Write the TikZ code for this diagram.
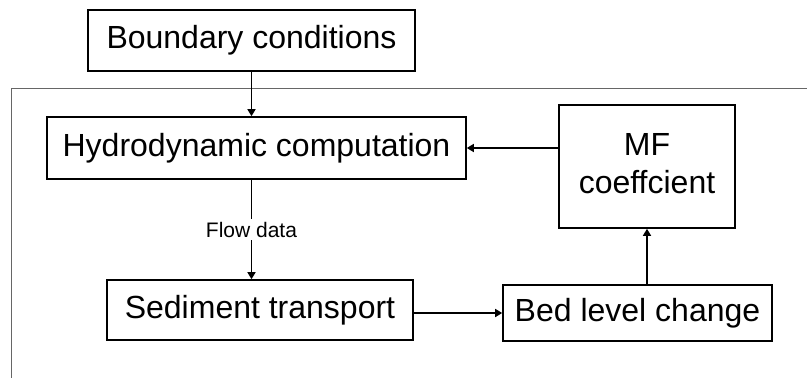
\documentclass[tikz,border=0pt]{standalone}
\usepackage{fontspec}
\setmainfont{Liberation Sans}
\usepackage{tikz}
\usetikzlibrary{arrows.meta}

\begin{document}
\begin{tikzpicture}[x=1pt, y=-1pt, >={Triangle[length=7pt,width=8pt]}]
 \tikzstyle{every node}=[font=\fontsize{32}{38}\selectfont, inner sep=0pt]
 \tikzstyle{block}=[draw, line width=1.6pt, align=center]
 \tikzstyle{link}=[->, line width=1.6pt]
 \useasboundingbox (0,0) rectangle (807,378);
 % frame around the loop
 \draw[line width=1pt, gray!80!black] (807,88) -- (11,88) -- (11,378);
 \node[block, minimum width=327pt, minimum height=61pt] (bc) at (251.5,40.5) {Boundary conditions};
 \node[block, minimum width=419pt, minimum height=62pt] (hydro) at (256.5,148) {Hydrodynamic computation};
 \node[block, minimum width=176pt, minimum height=123pt] (mf) at (647,166.5)
   {\raisebox{16pt}{\begin{tabular}{@{}c@{}}MF\\coeffcient\end{tabular}}};
 \node[block, minimum width=306pt, minimum height=60pt] (sed) at (260,310) {Sediment transport};
 \node[block, minimum width=269pt, minimum height=56pt] (bed) at (637.5,313) {Bed level change};

 \draw[link] (bc.south) -- (bc.south |- hydro.north);
 \draw[link] (bc.south |- hydro.south) -- node[fill=white, inner sep=3pt, font=\fontsize{21}{25}\selectfont]{Flow data} (bc.south |- sed.north);
 \draw[link] (sed.east |- bed) -- (bed.west);
 \draw[link] (mf.south |- bed.north) -- (mf.south);
 \draw[link] (mf.west |- hydro) -- (hydro.east);
\end{tikzpicture}
\end{document}
